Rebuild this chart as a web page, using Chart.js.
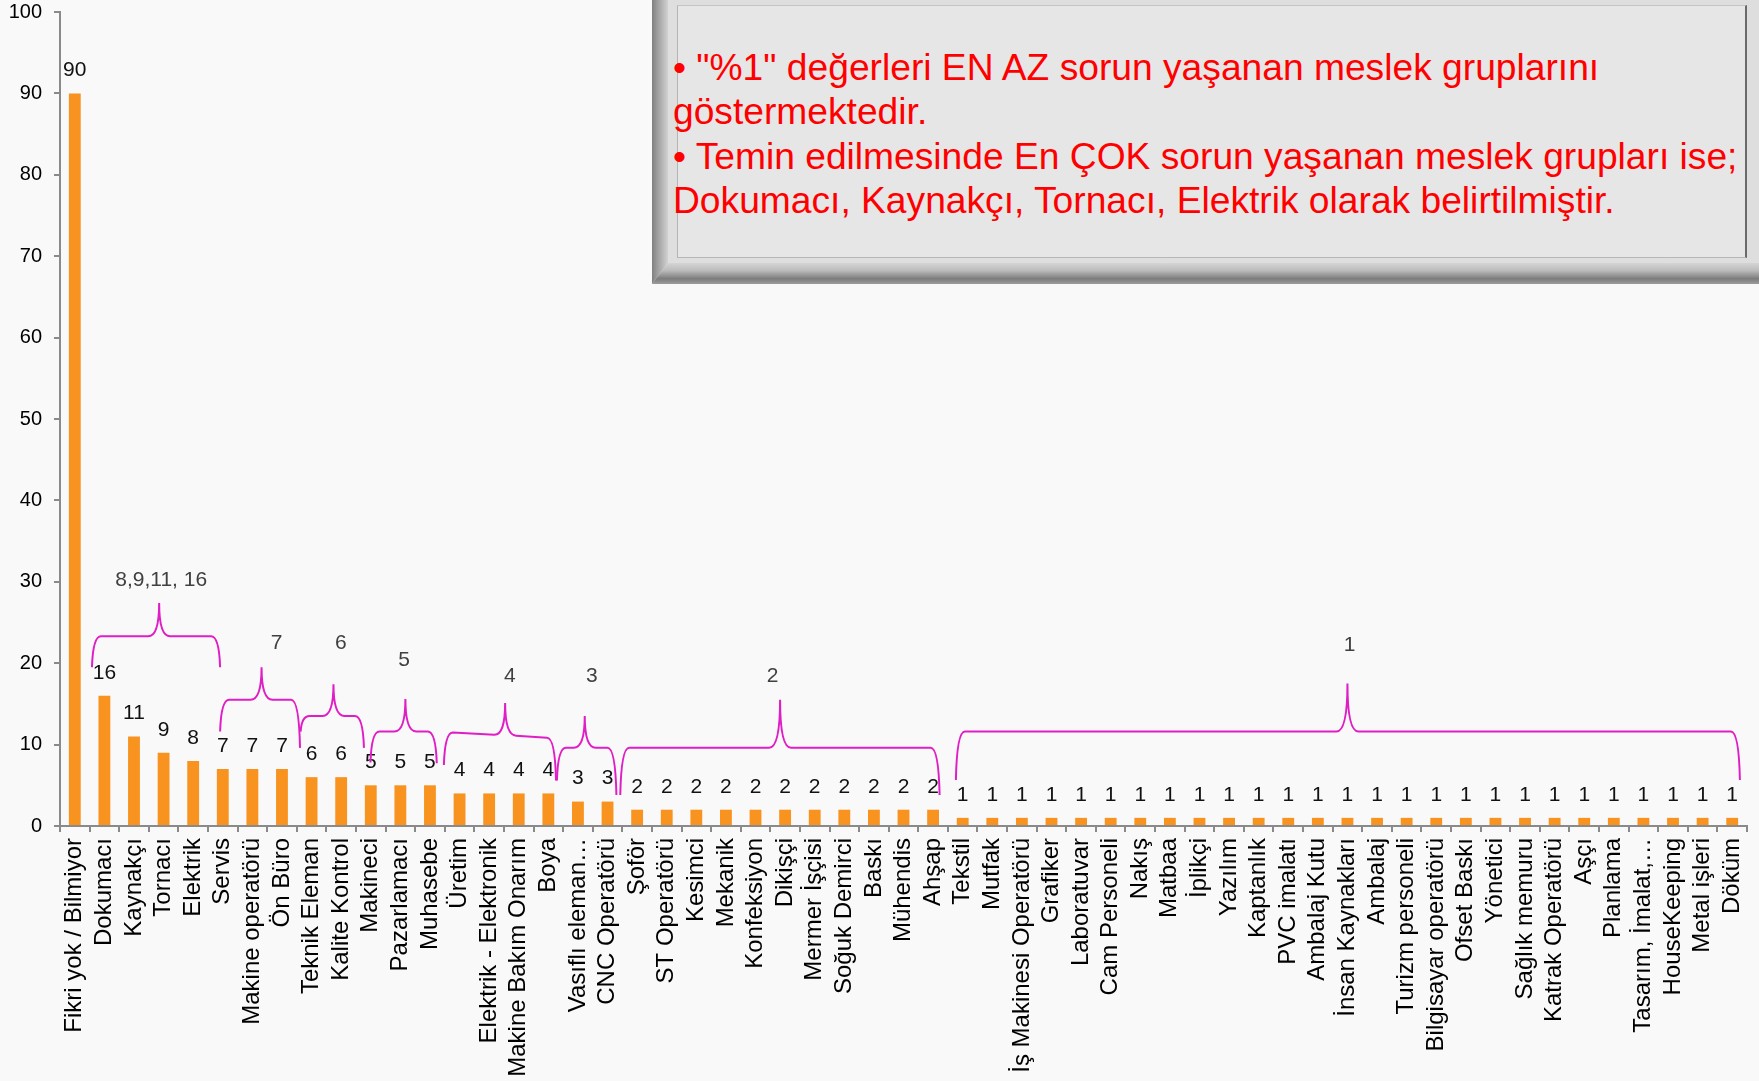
<!DOCTYPE html>
<html>
<head>
<meta charset="utf-8">
<script src="https://cdn.jsdelivr.net/npm/chart.js@4.4.1/dist/chart.umd.min.js"></script>
<style>
  html, body { margin: 0; padding: 0; background: #f9f9f9; }
  #wrap { position: relative; width: 1759px; height: 1081px; overflow: hidden; }
  #c { position: absolute; left: 0; top: 0; }
  #note { position: absolute; left: 652px; top: 0; width: 1107px; height: 284px; background: #dedede; }
  #note .bevelL { position: absolute; left: 0; top: 0; width: 16px; height: 100%;
    background: linear-gradient(to right, #808080 0%, #9a9a9a 30%, #d2d2d2 100%);
    clip-path: polygon(0 0, 100% 0, 100% calc(100% - 21px), 0 100%); }
  #note .bevelB { position: absolute; left: 0; bottom: 0; width: 100%; height: 21px;
    background: linear-gradient(to bottom, #d4d4d4 0%, #bcbcbc 35%, #7c7c7c 75%, #9c9c9c 100%);
    clip-path: polygon(0 100%, 16px 0, 100% 0, 100% 100%); }
  #note .panel { position: absolute; left: 25px; top: 5px; width: 1070px; height: 253px; box-sizing: border-box;
    background: #e6e6e6; border-left: 1px solid #b4b4b4; border-top: 1px solid #c4c4c4;
    border-right: 2px solid #6a6a6a; border-bottom: 1px solid #b8b8b8; }
  #note .txt { position: absolute; left: 21px; top: 45px; white-space: nowrap;
    font-family: "Liberation Sans", Arial, sans-serif; font-size: 37.2px; line-height: 44.3px; color: #ff0000; }
</style>
</head>
<body>
<div id="wrap">
  <canvas id="c" width="1759" height="1081"></canvas>
  <div id="note">
    <div class="bevelL"></div>
    <div class="bevelB"></div>
    <div class="panel"></div>
    <div class="txt">• "%1" değerleri EN AZ sorun yaşanan meslek gruplarını<br>göstermektedir.<br>• Temin edilmesinde En ÇOK sorun yaşanan meslek grupları ise;<br>Dokumacı, Kaynakçı, Tornacı, Elektrik olarak belirtilmiştir.</div>
  </div>
</div>
<script>
// ---- data ----
const categories = [
  'Fikri yok / Bilmiyor', 'Dokumacı', 'Kaynakçı', 'Tornacı', 'Elektrik',
  'Servis', 'Makine operatörü', 'Ön Büro', 'Teknik Eleman', 'Kalite Kontrol',
  'Makineci', 'Pazarlamacı', 'Muhasebe', 'Üretim', 'Elektrik - Elektronik',
  'Makine Bakım Onarım', 'Boya', 'Vasıflı eleman…', 'CNC Operatörü', 'Şoför',
  'ST Operatörü', 'Kesimci', 'Mekanik', 'Konfeksiyon', 'Dikişçi',
  'Mermer İşçisi', 'Soğuk Demirci', 'Baskı', 'Mühendis', 'Ahşap',
  'Tekstil', 'Mutfak', 'İş Makinesi Operatörü', 'Grafiker', 'Laboratuvar',
  'Cam Personeli', 'Nakış', 'Matbaa', 'İplikçi', 'Yazılım',
  'Kaptanlık', 'PVC imalatı', 'Ambalaj Kutu', 'İnsan Kaynakları', 'Ambalaj',
  'Turizm personeli', 'Bilgisayar operatörü', 'Ofset Baskı', 'Yönetici', 'Sağlık memuru',
  'Katrak Operatörü', 'Aşçı', 'Planlama', 'Tasarım, İmalat,…', 'HouseKeeping',
  'Metal işleri', 'Döküm'
];
const values = [
  90, 16, 11, 9, 8, 7, 7, 7, 6, 6,
  5, 5, 5, 4, 4, 4, 4, 3, 3, 2,
  2, 2, 2, 2, 2, 2, 2, 2, 2, 2,
  1, 1, 1, 1, 1, 1, 1, 1, 1, 1,
  1, 1, 1, 1, 1, 1, 1, 1, 1, 1,
  1, 1, 1, 1, 1, 1, 1
];
const yTicks = [0, 10, 20, 30, 40, 50, 60, 70, 80, 90, 100];
const groupLabels = ['8,9,11, 16', '7', '6', '5', '4', '3', '2', '1'];

// brace annotations, in category-index / value units
const braces = [
  { x0: 0.58,  x1: 4.91,  tip: 2.85,  levL: 23.3, levR: 23.3, dropL: 19.5, dropR: 19.5, top: 27.4, lx: 2.92,  ly: 30.2 },
  { x0: 4.91,  x1: 7.61,  tip: 6.31,  levL: 15.5, levR: 15.5, dropL: 11.6, dropR: 9.6,  top: 19.5, lx: 6.82,  ly: 22.4 },
  { x0: 7.63,  x1: 9.77,  tip: 8.74,  levL: 13.5, levR: 13.5, dropL: 11.6, dropR: 9.6,  top: 17.4, lx: 8.99,  ly: 22.4 },
  { x0: 9.99,  x1: 12.23, tip: 11.17, levL: 11.6, levR: 11.6, dropL: 7.8,  dropR: 7.7,  top: 15.6, lx: 11.13, ly: 20.4 },
  { x0: 12.47, x1: 16.26, tip: 14.54, levL: 11.5, levR: 10.85, dropL: 7.5, dropR: 5.6,  top: 15.1, lx: 14.70, ly: 18.4 },
  { x0: 16.29, x1: 18.3,  tip: 17.23, levL: 9.6,  levR: 9.6,  dropL: 5.6,  dropR: 3.8,  top: 13.5, lx: 17.47, ly: 18.4 },
  { x0: 18.43, x1: 29.22, tip: 23.83, levL: 9.6,  levR: 9.6,  dropL: 3.8,  dropR: 3.8,  top: 15.5, lx: 23.58, ly: 18.4 },
  { x0: 29.77, x1: 56.26, tip: 43.0,  levL: 11.6, levR: 11.6, dropL: 5.65, dropR: 5.65, top: 17.5, lx: 43.07, ly: 22.2 }
];

const FONT = '"Liberation Sans", Arial, sans-serif';
const AXIS = '#8a8a8a';

// value labels over each bar
const valueLabels = {
  id: 'valueLabels',
  afterDatasetsDraw(chart) {
    const { ctx } = chart;
    const meta = chart.getDatasetMeta(0);
    ctx.save();
    ctx.font = '21px ' + FONT;
    ctx.fillStyle = '#111';
    ctx.textAlign = 'center';
    ctx.textBaseline = 'middle';
    meta.data.forEach((bar, i) => {
      ctx.fillText(String(values[i]), bar.x, bar.y - 23);
    });
    ctx.restore();
  }
};

// curly braces grouping equal values
const groupBraces = {
  id: 'groupBraces',
  afterDatasetsDraw(chart) {
    const { ctx } = chart;
    const xs = chart.scales.x, ys = chart.scales.y;
    ctx.save();
    ctx.strokeStyle = '#e01ec6';
    ctx.lineWidth = 2;
    braces.forEach((b, i) => {
      const x0 = xs.getPixelForValue(b.x0), x1 = xs.getPixelForValue(b.x1);
      const xt = xs.getPixelForValue(b.tip);
      const yL = ys.getPixelForValue(b.levL), yR = ys.getPixelForValue(b.levR);
      const yAt = x => yL + (yR - yL) * (x - x0) / (x1 - x0);
      const yTop = ys.getPixelForValue(b.top);
      ctx.beginPath();
      ctx.moveTo(x0, ys.getPixelForValue(b.dropL));
      ctx.quadraticCurveTo(x0 + 1, yL, x0 + 9, yL);
      ctx.lineTo(xt - 11, yAt(xt - 11));
      ctx.quadraticCurveTo(xt, yAt(xt), xt, yTop);
      ctx.quadraticCurveTo(xt, yAt(xt), xt + 11, yAt(xt + 11));
      ctx.lineTo(x1 - 9, yR);
      ctx.quadraticCurveTo(x1 - 1, yR, x1, ys.getPixelForValue(b.dropR));
      ctx.stroke();

      ctx.font = '21px ' + FONT;
      ctx.fillStyle = '#404040';
      ctx.textAlign = 'center';
      ctx.textBaseline = 'middle';
      ctx.fillText(groupLabels[i], xs.getPixelForValue(b.lx), ys.getPixelForValue(b.ly));
    });
    ctx.restore();
  }
};

const bg = {
  id: 'bg',
  beforeDraw(chart) {
    const { ctx } = chart;
    ctx.save();
    ctx.fillStyle = '#f9f9f9';
    ctx.fillRect(0, 0, chart.width, chart.height);
    ctx.restore();
  }
};

new Chart(document.getElementById('c'), {
  type: 'bar',
  data: {
    labels: categories,
    datasets: [{
      data: values,
      backgroundColor: '#f7931e',
      borderWidth: 0,
      barPercentage: 0.4,
      categoryPercentage: 1
    }]
  },
  options: {
    responsive: false,
    animation: false,
    layout: { padding: { top: 12, right: 12, left: 0, bottom: 0 } },
    plugins: { legend: { display: false }, tooltip: { enabled: false } },
    scales: {
      x: {
        offset: true,
        border: { color: AXIS, width: 2 },
        grid: { offset: true, drawOnChartArea: false, drawTicks: true, tickLength: 6, color: AXIS, lineWidth: 2 },
        ticks: {
          autoSkip: false, minRotation: 90, maxRotation: 90, padding: 6,
          color: '#000', font: { family: FONT, size: 24 }
        },
        afterFit(scale) {
          scale.height = 255;
          scale.paddingLeft = 0; scale.paddingRight = 0;
        }
      },
      y: {
        min: 0, max: 100,
        border: { color: AXIS, width: 2 },
        grid: { drawOnChartArea: false, drawTicks: true, tickLength: 6, color: AXIS, lineWidth: 2 },
        afterBuildTicks(scale) { scale.ticks = yTicks.map(v => ({ value: v })); },
        ticks: { padding: 12, color: '#000', font: { family: FONT, size: 20 } },
        afterFit(scale) {
          scale.width = 60;
          scale.paddingTop = 0; scale.paddingBottom = 0;
        }
      }
    }
  },
  plugins: [bg, valueLabels, groupBraces]
});
</script>
</body>
</html>
